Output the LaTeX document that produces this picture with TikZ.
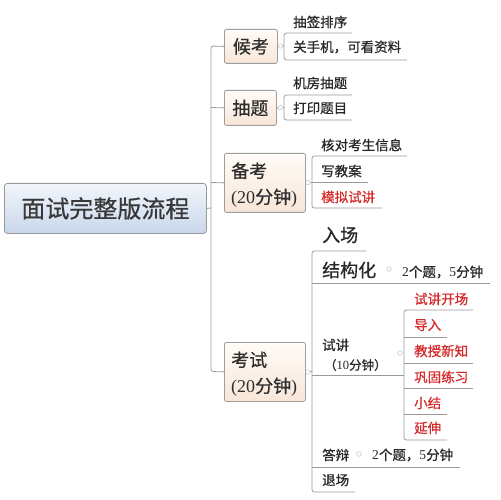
\documentclass[tikz,border=0pt]{standalone}
\usepackage{fontspec}
\setmainfont{Liberation Serif}
\newfontfamily\cjk[FakeBold=0.7]{Noto Sans CJK SC}
\usetikzlibrary{positioning}
\definecolor{linegray}{HTML}{9A9A9A}
\definecolor{txt}{HTML}{282828}
\definecolor{redtxt}{HTML}{D42A2A}
\definecolor{roottop}{HTML}{F2F6FB}
\definecolor{rootbot}{HTML}{C9D7EB}
\definecolor{brtop}{HTML}{FFFBF7}
\definecolor{brbot}{HTML}{F8E6D8}
\tikzset{
  rootbox/.style={draw=black!40, rounded corners=3pt, top color=roottop, bottom color=rootbot, line width=0.8pt, inner sep=0pt, anchor=north west, font=\cjk\fontsize{24}{28}\selectfont, text=black!78},
  branchbox/.style={draw=black!38, rounded corners=2pt, top color=brtop, bottom color=brbot, line width=0.8pt, inner sep=0pt, anchor=north west, font=\fontsize{18}{26}\selectfont, text=black!82},
  leaf/.style={anchor=west, inner sep=0pt, font=\cjk\fontsize{13.5}{16}\selectfont, text=txt},
  bigleaf/.style={anchor=west, inner sep=0pt, font=\cjk\fontsize{18}{20}\selectfont, text=txt},
  redleaf/.style={leaf, text=redtxt},
  conn/.style={draw=linegray, line width=0.8pt, rounded corners=2.5pt},
  knob/.style={circle, draw=black!20, fill=white, line width=0.6pt, inner sep=0pt, minimum size=4.5pt}
}
\begin{document}
\begin{tikzpicture}[x=1pt,y=-1pt]
\useasboundingbox (0,0) rectangle (501,500);
\fill[white] (0,0) rectangle (501,500);

% root and main branches
\node[rootbox, minimum width=202, minimum height=50] (root) at (4,183) {面试完整版流程};
\node[branchbox, minimum width=53, minimum height=34] (hk) at (224,29) {{\cjk 候考}};
\node[branchbox, minimum width=52, minimum height=35] (ct) at (224,90) {{\cjk 抽题}};
\node[branchbox, minimum width=81, minimum height=59] (bk) at (224,153) {};
\node[anchor=west, inner sep=0pt, font=\fontsize{18}{26}\selectfont, text=black!82, align=left] (bkt) at (231,185) {{\cjk 备考}\\(20{\cjk 分钟})};
\node[branchbox, minimum width=81, minimum height=59] (ks) at (224,342) {};
\node[anchor=west, inner sep=0pt, font=\fontsize{18}{26}\selectfont, text=black!82, align=left] (kst) at (231,374) {{\cjk 考试}\\(20{\cjk 分钟})};

% trunk
\draw[conn] (hk.west) -- (211,46) -- (211,371.5) -- (ks.west);
\draw[conn] (ct.west) -- (211,107.5);
\draw[conn] (bk.west) -- (211,182.5);
\draw[conn] (root.east) -- (211,208);

% 候考 children
\node[leaf] (c1) at (293,22) {抽签排序};
\node[leaf] (c2) at (293,47) {关手机，可看资料};
\draw[conn] (352,33) -- (284,33) -- (284,60) -- (407,60);
\draw[conn] (hk.east) -- (284,46);
\node[knob] (k1) at (280.5,46) {};

% 抽题 children
\node[leaf] (d1) at (293,83) {机房抽题};
\node[leaf] (d2) at (293,108) {打印题目};
\draw[conn] (352,95) -- (284,95) -- (284,120) -- (352,120);
\draw[conn] (ct.east) -- (284,107.5);
\node[knob] (k2) at (280.5,107.5) {};

% 备考 children
\node[leaf] (b1) at (321,145) {核对考生信息};
\node[leaf] (b2) at (321,171) {写教案};
\node[redleaf] (b3) at (321,197) {模拟试讲};
\draw[conn] (407,156) -- (312,156) -- (312,208) -- (382,208);
\draw[conn] (312,182) -- (368,182);
\draw[conn] (bk.east) -- (312,182.5);
\node[knob] (k3) at (308,182.5) {};

% 考试 children
\node[bigleaf] (e1) at (322,235) {入场};
\node[bigleaf] (e2) at (322,270) {结构化};
\node[knob] (k5) at (389,269) {};
\node[anchor=west, inner sep=0pt, font=\fontsize{13.5}{16}\selectfont, text=txt] (e2b) at (402,272) {2{\cjk 个题，}5{\cjk 分钟}};
\node[leaf] (e3) at (322,345) {试讲};
\node[anchor=west, inner sep=0pt, font=\fontsize{12.5}{16}\selectfont, text=txt] (e3b) at (324,365) {{\cjk （}10{\cjk 分钟）}};
\node[knob] (k6) at (400,353) {};
\node[leaf] (e4) at (322,455) {答辩};
\node[knob] (k7) at (359,454) {};
\node[anchor=west, inner sep=0pt, font=\fontsize{13.5}{16}\selectfont, text=txt] (e4b) at (372,455) {2{\cjk 个题，}5{\cjk 分钟}};
\node[leaf] (e5) at (322,480) {退场};
\draw[conn] (366,251) -- (312,251) -- (312,492) -- (355,492);
\draw[conn] (312,283) -- (490,283);
\draw[conn] (312,375) -- (404,375);
\draw[conn] (312,467) -- (460,467);
\draw[conn] (ks.east) -- (312,371.5);
\node[knob] (k4) at (308,372) {};

% 试讲 children
\node[redleaf] (s1) at (414,299) {试讲开场};
\node[redleaf] (s2) at (414,325) {导入};
\node[redleaf] (s3) at (414,351) {教授新知};
\node[redleaf] (s4) at (414,377) {巩固练习};
\node[redleaf] (s5) at (414,403) {小结};
\node[redleaf] (s6) at (414,428) {延伸};
\draw[conn] (473,310) -- (404,310) -- (404,440) -- (447,440);
\draw[conn] (404,337) -- (447,337);
\draw[conn] (404,363) -- (473,363);
\draw[conn] (404,388) -- (473,388);
\draw[conn] (404,414) -- (447,414);
\end{tikzpicture}
\end{document}
